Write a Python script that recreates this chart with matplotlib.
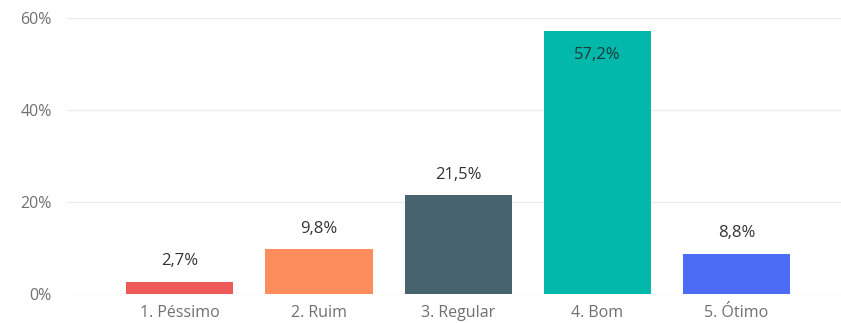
import matplotlib.pyplot as plt
from matplotlib.ticker import FuncFormatter

# Avaliação distribution (share of answers, %)
categories = ["1. Péssimo", "2. Ruim", "3. Regular", "4. Bom", "5. Ótimo"]
shares = [2.7, 9.8, 21.5, 57.2, 8.8]
colors = ["#EE5A58", "#FD8D5C", "#46636E", "#01B8AA", "#4C6CF6"]
yticks = [0, 20, 40, 60]

plt.rcParams["font.family"] = ["Open Sans", "DejaVu Sans"]

fig = plt.figure(figsize=(8.41, 3.23), dpi=100)
ax = fig.add_axes([0.0797, 0.0898, 0.9203, 0.8545])

x = range(len(categories))
bars = ax.bar(x, shares, width=0.77, color=colors, zorder=2)

# value labels: above the bar, inside for the tallest one
for b, v in zip(bars, shares):
    label = f"{v:.1f}%".replace(".", ",")
    cx = b.get_x() + b.get_width() / 2
    if v > 50:
        ax.text(cx, v - 5.2, label, ha="center", va="center",
                fontsize=12, color="#1f3a3a")
    else:
        ax.text(cx, v + 4.4, label, ha="center", va="center",
                fontsize=12, color="#333333")

ax.set_xlim(-0.81, 4.75)
ax.set_ylim(0, 60)
ax.set_yticks(yticks)
ax.yaxis.set_major_formatter(FuncFormatter(lambda v, p: f"{v:.0f}%"))
ax.set_xticks(list(x))
ax.set_xticklabels(categories)

ax.grid(axis="y", color="#ececec", linewidth=1, zorder=0)
for s in ax.spines.values():
    s.set_visible(False)
ax.tick_params(axis="both", length=0, labelsize=11.5, labelcolor="#707070")
ax.tick_params(axis="x", pad=8)
ax.tick_params(axis="y", pad=11)
for t in ax.get_yticklabels():
    t.set_clip_on(False)

fig.savefig("out.png", dpi=100)
